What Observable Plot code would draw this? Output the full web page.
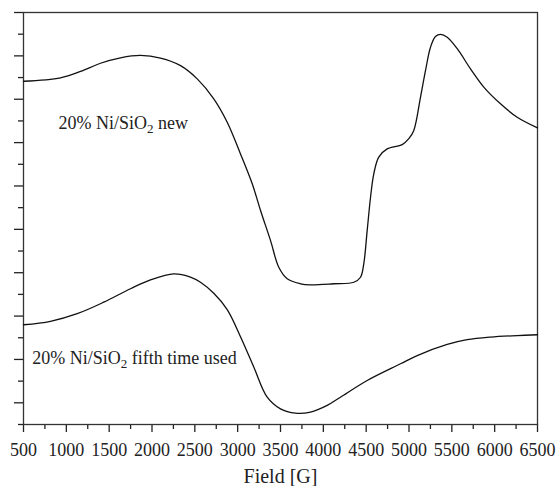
<!DOCTYPE html>
<html><head><meta charset="utf-8">
<script src="https://cdn.jsdelivr.net/npm/d3@7"></script>
<script src="https://cdn.jsdelivr.net/npm/@observablehq/plot@0.6"></script>
<style>
body{margin:0;background:#fff}
#chart svg, #chart svg text, #chart svg tspan {font-family: "Liberation Serif", "Times New Roman", "DejaVu Serif", serif !important;}
</style>
</head><body><div id="chart"></div>
<script>
// Field values [G] and signal (arbitrary units)
const newField = [500, 932, 1165, 1399, 1632, 1866, 2099, 2333, 2528, 2721, 2878, 3033, 3170, 3267, 3383, 3480, 3578, 3734, 3850, 4122, 4356, 4434, 4472, 4512, 4551, 4589, 4647, 4745, 4921, 4998, 5056, 5134, 5193, 5251, 5309, 5368, 5446, 5563, 5718, 5873, 6068, 6263, 6500];
const newSignal = [15.83, 15.99, 16.28, 16.66, 16.91, 17.02, 16.90, 16.55, 15.94, 15.02, 13.94, 12.48, 11.10, 9.87, 8.49, 7.25, 6.72, 6.49, 6.44, 6.49, 6.56, 6.79, 7.41, 8.95, 10.48, 11.56, 12.33, 12.71, 12.91, 13.18, 13.56, 15.09, 16.33, 17.40, 17.89, 17.99, 17.86, 17.33, 16.40, 15.56, 14.79, 14.17, 13.68];
const usedField = [500, 815, 1127, 1437, 1749, 1982, 2254, 2449, 2566, 2721, 2878, 3033, 3188, 3345, 3500, 3675, 3850, 4045, 4200, 4512, 4901, 5096, 5446, 5679, 5951, 6263, 6500];
const usedSignal = [4.60, 4.76, 5.11, 5.64, 6.26, 6.67, 6.95, 6.80, 6.56, 6.05, 5.30, 4.05, 2.65, 1.26, 0.72, 0.52, 0.57, 0.88, 1.26, 2.03, 2.80, 3.18, 3.69, 3.91, 4.03, 4.10, 4.14];

const xMajorTicks = [500, 1000, 1500, 2000, 2500, 3000, 3500, 4000, 4500, 5000, 5500, 6000, 6500];
const xMinorTicks = [750, 1250, 1750, 2250, 2750, 3250, 3750, 4250, 4750, 5250, 5750, 6250];
const yMajorTicks = [1, 3, 5, 7, 9, 11, 13, 15, 17, 19];
const yMinorTicks = [0, 2, 4, 6, 8, 10, 12, 14, 16, 18];

const labelText = ["20% Ni/SiO2 new", "20% Ni/SiO2 fifth time used"];
const labelField = [909, 602];
const labelSignal = [13.64, 2.8];
const xLabel = "Field [G]";

const newData = newField.map((f, i) => ({field: f, signal: newSignal[i]}));
const usedData = usedField.map((f, i) => ({field: f, signal: usedSignal[i]}));
const labels = labelText.map((t, i) => ({text: t, field: labelField[i], signal: labelSignal[i]}));

const serif = '"Liberation Serif", "Times New Roman", "DejaVu Serif", serif';
const ink = "#222";
const chart = Plot.plot({
  width: 557, height: 486,
  marginTop: 12, marginBottom: 62, marginLeft: 23, marginRight: 20,
  style: {fontFamily: serif, background: "#fff", color: ink, overflow: "visible"},
  x: {domain: [500, 6500]},
  y: {domain: [0, 19]},
  marks: [
    Plot.axisX(xMajorTicks, {tickSize: 8, tickPadding: 11, fontSize: 18, tickFormat: d => String(d), label: null, stroke: ink, strokeWidth: 1.3, fill: ink}),
    Plot.axisX(xMinorTicks, {tickSize: 5, tickFormat: () => "", label: null, stroke: ink, strokeWidth: 1.3}),
    Plot.axisY(yMajorTicks, {tickSize: 9, tickFormat: () => "", label: null, stroke: ink, strokeWidth: 1.3}),
    Plot.axisY(yMinorTicks, {tickSize: 5, tickFormat: () => "", label: null, stroke: ink, strokeWidth: 1.3}),
    Plot.frame({stroke: "#333", strokeWidth: 1.3}),
    Plot.line(newData, {x: "field", y: "signal", curve: "catmull-rom", stroke: "#111", strokeWidth: 1.3}),
    Plot.line(usedData, {x: "field", y: "signal", curve: "catmull-rom", stroke: "#111", strokeWidth: 1.3}),
    Plot.text(labels, {x: "field", y: "signal", text: "text", textAnchor: "start", lineAnchor: "bottom", fontSize: 18, fill: ink}),
    Plot.text([xLabel], {frameAnchor: "bottom", dy: 58, lineAnchor: "bottom", fontSize: 20, fill: ink})
  ]
});

d3.select(chart).selectAll("text").attr("font-family", serif).each(function() {
  const t = this.textContent;
  if (t.includes("SiO2")) {
    const parts = t.split("SiO2");
    const sel = d3.select(this);
    sel.text(null);
    sel.append("tspan").text(parts[0] + "SiO");
    sel.append("tspan").attr("dy", 4).attr("font-size", 13).text("2");
    sel.append("tspan").attr("dy", -4).text(parts[1]);
  }
});

document.getElementById("chart").appendChild(chart);
</script>
</body></html>
